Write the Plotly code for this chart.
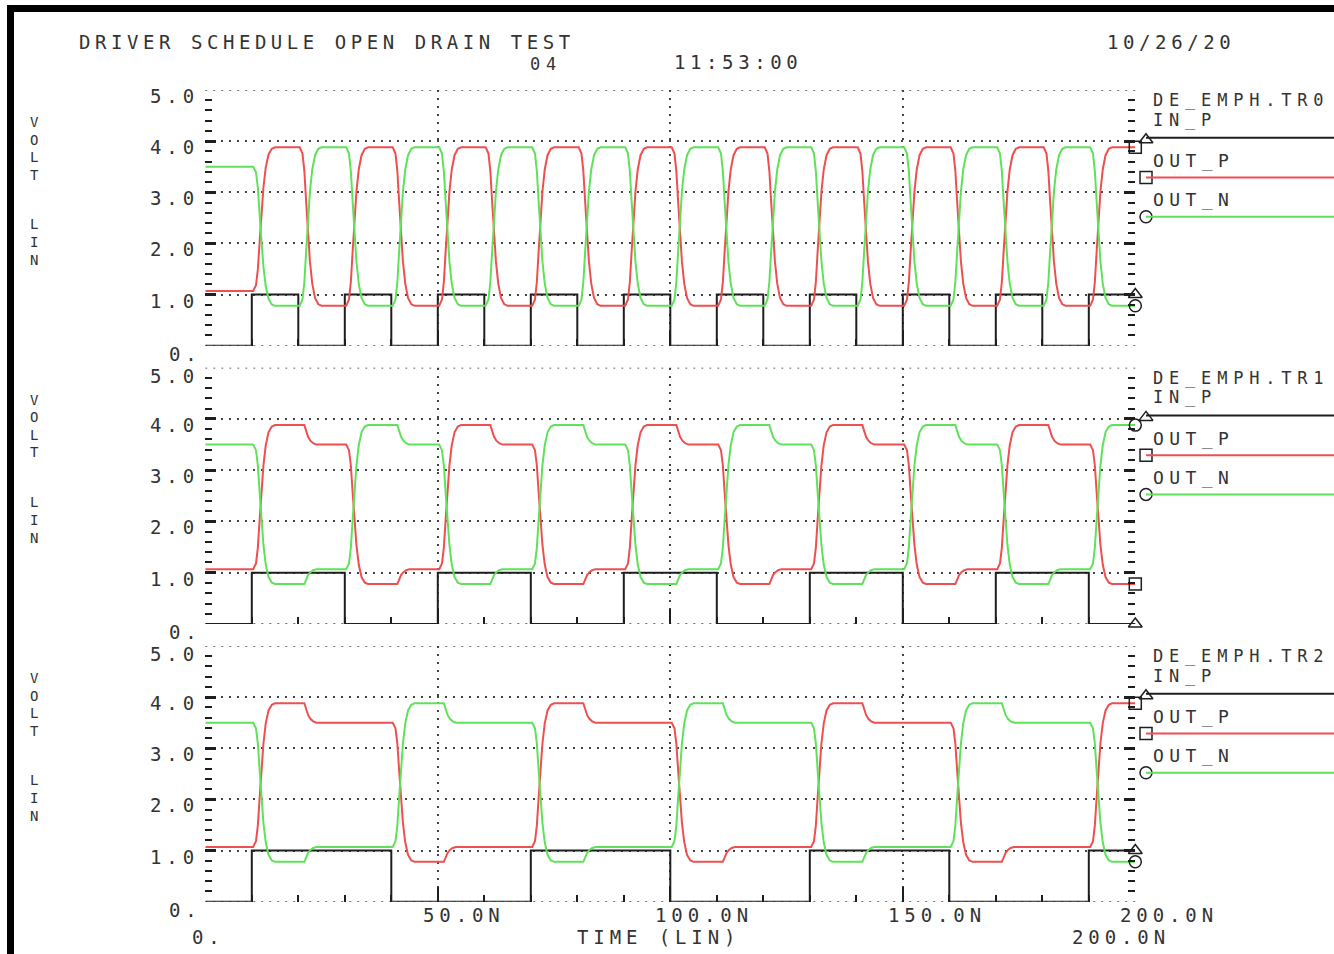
import plotly.graph_objects as go

# ---------------- data ----------------
T_END_NS = 200.0
panel_names = ["DE_EMPH.TR0", "DE_EMPH.TR1", "DE_EMPH.TR2"]

# IN_P edge times (ns); IN_P starts low (0 V) and toggles at every edge
in_p_edges_tr0 = [10, 20, 30, 40, 50, 60, 70, 80, 90, 100, 110, 120, 130, 140, 150, 160, 170, 180, 190]
in_p_edges_tr1 = [10, 30, 50, 70, 90, 110, 130, 150, 170, 190]
in_p_edges_tr2 = [10, 40, 70, 100, 130, 160, 190]
in_p_low = 0.0
in_p_high = 1.0

# output levels (V)
out_high_emph = 3.88
out_high_deemph = 3.50
out_low_emph = 0.78
out_low_deemph = 1.07

# edge shape after an IN_P edge (ns offset, fraction of swing)
edge_shape_dt = [0.3, 0.9, 1.3, 1.7, 2.1, 2.5, 3.0, 3.6, 4.3, 5.0]
edge_shape_frac = [0.0, 0.04, 0.15, 0.35, 0.55, 0.72, 0.86, 0.95, 0.99, 1.0]
# emphasis hold time and settle shape to the de-emphasised level
emph_hold_ns = 11.3
settle_dt = [0.0, 0.4, 0.8, 1.3, 1.9, 2.6]
settle_frac = [0.0, 0.35, 0.6, 0.8, 0.93, 1.0]

y_tick_vals = [0, 1, 2, 3, 4, 5]
y_tick_text = ["0.", "1.0", "2.0", "3.0", "4.0", "5.0"]
x_tick_vals = [50, 100, 150, 200]
x_tick_text = ["50.0N", "100.0N", "150.0N", "200.0N"]

RED = "#ee4f4f"
GREEN = "#5fe25a"
BLACK = "#1e1e1e"
TXT = "#333333"
GRID = "#444444"
FONT = "DejaVu Sans Mono"


def in_p_wave(edges):
    xs = [0.0] + list(edges) + [T_END_NS]
    ys = []
    lvl = in_p_low
    ys.append(lvl)
    for _ in edges:
        lvl = in_p_high if lvl == in_p_low else in_p_low
        ys.append(lvl)
    ys.append(lvl)
    return xs, ys


def out_wave(edges, start_high):
    state = 1 if start_high else 0
    emph = {1: out_high_emph, 0: out_low_emph}
    deem = {1: out_high_deemph, 0: out_low_deemph}
    cur = deem[state]
    t, v = [0.0], [cur]
    for i, e in enumerate(edges):
        state = 1 - state
        nxt = edges[i + 1] if i + 1 < len(edges) else T_END_NS
        tgt = emph[state]
        for dt, f in zip(edge_shape_dt, edge_shape_frac):
            t.append(e + dt)
            v.append(cur + (tgt - cur) * f)
        cur = tgt
        if nxt > e + emph_hold_ns + settle_dt[-1]:
            s = deem[state]
            for dt, f in zip(settle_dt, settle_frac):
                t.append(e + emph_hold_ns + dt)
                v.append(cur + (s - cur) * f)
            cur = s
        t.append(nxt)
        v.append(cur)
    return t, v


# ---------------- geometry (pixels of 1334 x 954 page) ----------------
W, H = 1334, 954
X0_PX, X1_PX = 205.3, 1135.3
panels_px = [(345.7, 90.0), (624.0, 367.7), (901.7, 646.0)]  # (y of 0 V, y of 5 V)
xdom = [X0_PX / W, X1_PX / W]

fig = go.Figure()
layout = dict(
    width=W, height=H, margin=dict(l=0, r=0, t=0, b=0),
    paper_bgcolor="white", plot_bgcolor="rgba(0,0,0,0)",
    showlegend=False, font=dict(family=FONT, color=TXT),
)

edges_list = [in_p_edges_tr0, in_p_edges_tr1, in_p_edges_tr2]
annotations = []
shapes = []


def lbl(s, x, y, xref, yref, size=19, ls=4.9, xanchor="left", yanchor="middle", xshift=0, yshift=0):
    annotations.append(dict(
        text=f'<span style="letter-spacing:{ls}px">{s}</span>',
        x=x, y=y, xref=xref, yref=yref, xanchor=xanchor, yanchor=yanchor,
        xshift=xshift, yshift=yshift, showarrow=False,
        font=dict(family=FONT, size=size, color=TXT)))


for i, (edges, (py0, py5)) in enumerate(zip(edges_list, panels_px)):
    n = "" if i == 0 else str(i + 1)
    xa, ya = "x" + n, "y" + n
    ydom = [1 - py0 / H, 1 - py5 / H]
    layout["xaxis" + n] = dict(
        domain=xdom, range=[0, T_END_NS], anchor=ya,
        showticklabels=False, zeroline=False, showline=False,
        tickmode="array", tickvals=[50, 100, 150],
        ticks="inside", ticklen=15, tickwidth=2, tickcolor=BLACK,
        showgrid=True, gridcolor=GRID, gridwidth=1.6, griddash="2px,6px",
        minor=dict(tickmode="linear", tick0=0, dtick=10, ticks="inside",
                   ticklen=7, tickwidth=1.6, tickcolor=BLACK, showgrid=False),
    )
    layout["yaxis" + n] = dict(
        domain=ydom, range=[0, 5], anchor=xa,
        showticklabels=False, zeroline=False, showline=False,
        tickmode="linear", tick0=0, dtick=1,
        ticks="inside", ticklen=11, tickwidth=3, tickcolor=BLACK, mirror="ticks",
        showgrid=True, gridcolor=GRID, gridwidth=1.6, griddash="2px,6px",
        minor=dict(tickmode="linear", tick0=0, dtick=0.2, ticks="inside",
                   ticklen=7, tickwidth=2, tickcolor=BLACK, showgrid=False),
    )
    # dotted grid at the range ends (0 V and 5 V), which plotly omits
    for gv in (y_tick_vals[0], y_tick_vals[-1]):
        shapes.append(dict(type="line", xref=xa + " domain", yref=ya, x0=0, x1=1, y0=gv, y1=gv,
                           layer="below", line=dict(color=GRID, width=1.6, dash="2px,6px")))

    bx, by = in_p_wave(edges)
    rx, ry = out_wave(edges, start_high=False)
    gx, gy = out_wave(edges, start_high=True)
    fig.add_trace(go.Scatter(x=bx, y=by, xaxis=xa, yaxis=ya, mode="lines", line_shape="hv",
                             line=dict(color=BLACK, width=2), cliponaxis=False))
    fig.add_trace(go.Scatter(x=rx, y=ry, xaxis=xa, yaxis=ya, mode="lines",
                             line=dict(color=RED, width=2), cliponaxis=False))
    fig.add_trace(go.Scatter(x=gx, y=gy, xaxis=xa, yaxis=ya, mode="lines",
                             line=dict(color=GREEN, width=2), cliponaxis=False))
    # end markers
    for xs, ys, sym in ((bx, by, "triangle-up-open"), (rx, ry, "square-open"), (gx, gy, "circle-open")):
        fig.add_trace(go.Scatter(x=[xs[-1]], y=[ys[-1]], xaxis=xa, yaxis=ya, mode="markers",
                                 marker=dict(symbol=sym, size=12, color=BLACK, line=dict(width=1.5, color=BLACK)),
                                 cliponaxis=False))

    # y tick labels
    for val, t in zip(y_tick_vals, y_tick_text):
        if t == "0.":
            lbl(t, 167 / W, val, "paper", ya, yshift=-8)
        else:
            ys_ = -6 if not (val == 5 and i > 0) else -8
            lbl(t, 148 / W, val, "paper", ya, yshift=ys_)

    # VOLT LIN vertical
    off = py5 - panels_px[0][1]
    for ch, yy in zip("VOLTLIN", [122, 139.5, 157, 174.5, 224, 242, 260]):
        annotations.append(dict(text=ch, x=34, y=yy + off, xref="x4", yref="y4",
                                xanchor="center", yanchor="middle", showarrow=False,
                                font=dict(family=FONT, size=14, color=TXT)))

    # legend block at right
    lbl(panel_names[i], 1151, 100 + off, "x4", "y4", size=17, ls=5.8)
    lbl("IN_P", 1151, 119.5 + off, "x4", "y4", size=17, ls=5.8)
    lbl("OUT_P", 1151, 160.5 + off, "x4", "y4", size=18, ls=5.4)
    lbl("OUT_N", 1151, 199.5 + off, "x4", "y4", size=18, ls=5.4)
    for yy, col, sym in ((137.7, BLACK, "triangle-up-open"), (177.5, RED, "square-open"), (216.7, GREEN, "circle-open")):
        shapes.append(dict(type="line", xref="x4", yref="y4", x0=1146, x1=1340, y0=yy + off, y1=yy + off,
                           line=dict(color=col, width=2)))
        fig.add_trace(go.Scatter(x=[1146], y=[yy + off + (2 if sym.startswith("tri") else 0)],
                                 xaxis="x4", yaxis="y4", mode="markers", cliponaxis=False,
                                 marker=dict(symbol=sym, size=12, color=BLACK, line=dict(width=1.5, color=BLACK))))

# bottom x labels (panel 3)
for val, t in zip(x_tick_vals, x_tick_text):
    lbl(t, val, 0, "x3", "y3", xshift=-17, yshift=-13)
lbl("0.", 190, 937, "x4", "y4")
lbl("TIME (LIN)", 575, 937, "x4", "y4")
lbl("200.0N", 1070, 937, "x4", "y4")

# header
lbl("DRIVER SCHEDULE OPEN DRAIN TEST", 77, 41.5, "x4", "y4", size=19, ls=4.55)
lbl("04", 528, 63.5, "x4", "y4", size=17, ls=5.8)
lbl("11:53:00", 672, 62, "x4", "y4", ls=4.6)
lbl("10/26/20", 1105, 42, "x4", "y4", ls=4.6)

# overlay pixel axis for decorations
layout["xaxis4"] = dict(domain=[0, 1], range=[0, W], visible=False, anchor="y4", fixedrange=True)
layout["yaxis4"] = dict(domain=[0, 1], range=[H, 0], visible=False, anchor="x4", fixedrange=True)

# thick frame
shapes.append(dict(type="rect", xref="x4", yref="y4", x0=10.5, y0=8.5, x1=1345, y1=965,
                   line=dict(color="black", width=7), fillcolor="rgba(0,0,0,0)"))

layout["annotations"] = annotations
layout["shapes"] = shapes
fig.update_layout(**layout)
fig.write_html("out.html")
